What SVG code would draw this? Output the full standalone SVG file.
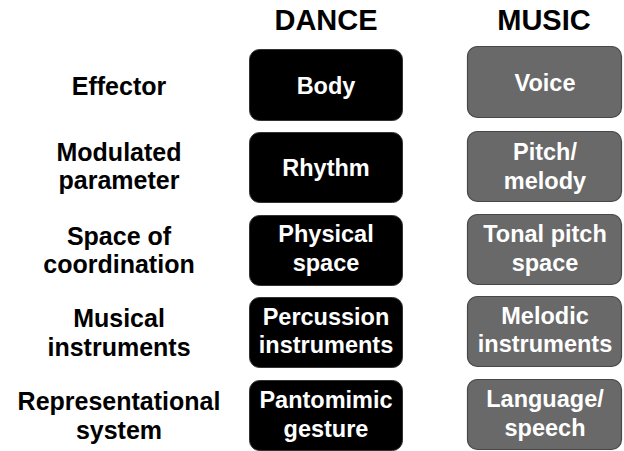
<svg xmlns="http://www.w3.org/2000/svg" width="624" height="451" viewBox="0 0 624 451">
<style>
text{font-family:"Liberation Sans",Arial,Helvetica,sans-serif;font-weight:bold;text-anchor:middle}
.h{font-size:29px;fill:#000}
.l{font-size:25px;fill:#000}
.t{font-size:23.5px;fill:#fff}
.d{fill:#000;stroke:#333;stroke-width:1}
.m{fill:#696969;stroke:#484848;stroke-width:1.2}
</style>
<rect width="624" height="451" fill="#fff"/>
<g id="headers">
<text class="h" x="326" y="30">DANCE</text>
<text class="h" x="544" y="30">MUSIC</text>
</g>
<g id="labels">
<text class="l" x="119" y="95">Effector</text>
<text class="l" x="119" y="161">Modulated</text>
<text class="l" x="119" y="189">parameter</text>
<text class="l" x="119" y="245">Space of</text>
<text class="l" x="119" y="273">coordination</text>
<text class="l" x="119" y="327">Musical</text>
<text class="l" x="119" y="356">instruments</text>
<text class="l" x="119" y="410">Representational</text>
<text class="l" x="119" y="439">system</text>
</g>
<g id="dance-body"><rect class="d" x="249.5" y="49.5" width="153" height="71" rx="10"/><text class="t" x="326" y="94">Body</text></g>
<g id="dance-rhythm"><rect class="d" x="249.5" y="132.5" width="153" height="70" rx="10"/><text class="t" x="326" y="176">Rhythm</text></g>
<g id="dance-space"><rect class="d" x="249.5" y="215.5" width="153" height="70" rx="10"/><text class="t" x="326" y="242">Physical</text><text class="t" x="326" y="271">space</text></g>
<g id="dance-percussion"><rect class="d" x="249.5" y="297.5" width="153" height="70" rx="10"/><text class="t" x="326" y="325">Percussion</text><text class="t" x="326" y="353">instruments</text></g>
<g id="dance-pantomimic"><rect class="d" x="249.5" y="380.5" width="153" height="70" rx="10"/><text class="t" x="326" y="408">Pantomimic</text><text class="t" x="326" y="437">gesture</text></g>
<g id="music-voice"><rect class="m" x="467.5" y="46.5" width="154" height="71" rx="10"/><text class="t" x="545" y="91">Voice</text></g>
<g id="music-pitch"><rect class="m" x="467.5" y="131.5" width="154" height="70" rx="10"/><text class="t" x="545" y="160">Pitch/</text><text class="t" x="545" y="189">melody</text></g>
<g id="music-tonal"><rect class="m" x="467.5" y="214.5" width="154" height="70" rx="10"/><text class="t" x="545" y="242">Tonal pitch</text><text class="t" x="545" y="271">space</text></g>
<g id="music-melodic"><rect class="m" x="467.5" y="296.5" width="154" height="70" rx="10"/><text class="t" x="545" y="324">Melodic</text><text class="t" x="545" y="352">instruments</text></g>
<g id="music-language"><rect class="m" x="467.5" y="379.5" width="154" height="70" rx="10"/><text class="t" x="545" y="407">Language/</text><text class="t" x="545" y="436">speech</text></g>
<g id="connectors"/>
</svg>
